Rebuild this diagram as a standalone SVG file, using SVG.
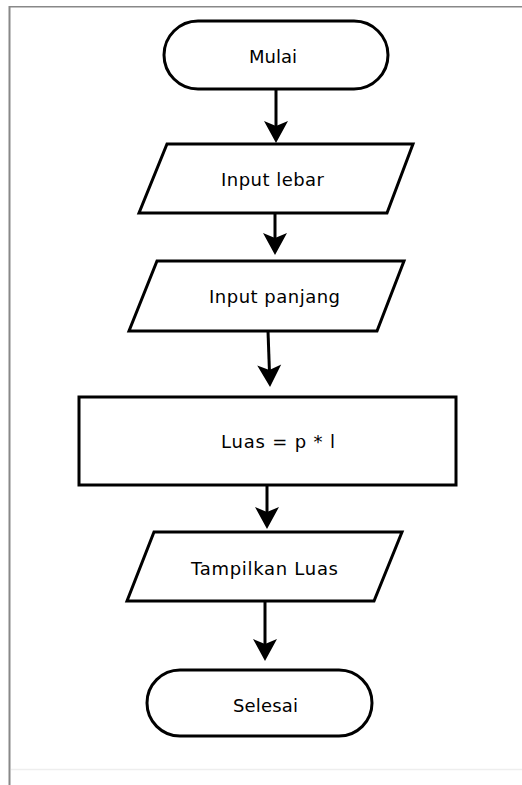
<svg xmlns="http://www.w3.org/2000/svg" width="522" height="785" viewBox="0 0 522 785">
<style>
.shape{fill:#fff;stroke:#000;stroke-width:3;stroke-linejoin:miter}
.lbl{font-family:"DejaVu Sans",Verdana,sans-serif;font-size:18px;fill:#000;text-anchor:middle}
.conn{stroke:#000;stroke-width:3;fill:none}
</style>
<defs>
<marker id="ah" markerUnits="userSpaceOnUse" viewBox="0 -12 22 24" markerWidth="22" markerHeight="24" refX="5" refY="0" orient="auto" overflow="visible">
<path d="M0,-12 L22,0 L0,12 L5,0 Z" fill="#000"/>
</marker>
</defs>
<rect width="522" height="785" fill="#fff"/>
<g id="frame">
<line x1="9.5" y1="6" x2="9.5" y2="785" stroke="#888" stroke-width="2"/>
<line x1="9" y1="6.8" x2="522" y2="6.8" stroke="#888" stroke-width="1.6"/>
<line x1="11" y1="769.5" x2="522" y2="769.5" stroke="#eee" stroke-width="1.5"/>
</g>
<g id="connectors">
<line class="conn" x1="276" y1="89" x2="276" y2="126" marker-end="url(#ah)"/>
<line class="conn" x1="275" y1="213" x2="275" y2="238" marker-end="url(#ah)"/>
<line class="conn" x1="268" y1="331" x2="269.4" y2="370" marker-end="url(#ah)"/>
<line class="conn" x1="267" y1="485" x2="267" y2="512" marker-end="url(#ah)"/>
<line class="conn" x1="265" y1="601" x2="265" y2="644" marker-end="url(#ah)"/>
</g>
<g id="mulai">
<rect class="shape" x="164" y="21" width="224" height="68" rx="34" ry="34"/>
<text class="lbl" x="273" y="62.5" textLength="48" lengthAdjust="spacing">Mulai</text>
</g>
<g id="input-lebar">
<polygon class="shape" points="167,144 413,144 387,213 139,213"/>
<text class="lbl" x="272.5" y="185.5" textLength="103" lengthAdjust="spacing">Input lebar</text>
</g>
<g id="input-panjang">
<polygon class="shape" points="157,261 404,261 377,331 129,331"/>
<text class="lbl" x="274.5" y="303" textLength="131" lengthAdjust="spacing">Input panjang</text>
</g>
<g id="proses">
<rect class="shape" x="79" y="397" width="377" height="88"/>
<text class="lbl" x="278" y="447.5" textLength="114" lengthAdjust="spacing">Luas = p * l</text>
</g>
<g id="tampilkan">
<polygon class="shape" points="154,532 402,532 374,601 127,601"/>
<text class="lbl" x="264.5" y="575" textLength="147" lengthAdjust="spacing">Tampilkan Luas</text>
</g>
<g id="selesai">
<rect class="shape" x="147" y="670" width="225" height="66" rx="33" ry="33"/>
<text class="lbl" x="265.5" y="711.5" textLength="65" lengthAdjust="spacing">Selesai</text>
</g>
</svg>
